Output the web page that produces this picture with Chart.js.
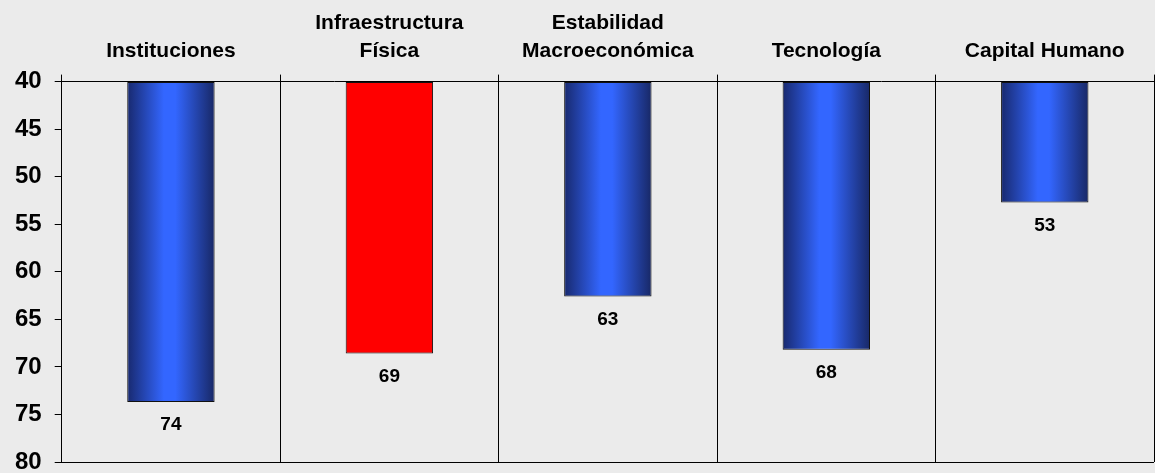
<!DOCTYPE html>
<html>
<head>
<meta charset="utf-8">
<script src="https://cdn.jsdelivr.net/npm/chart.js@4/dist/chart.umd.min.js"></script>
<style>
  html, body { margin: 0; padding: 0; background: #ebebeb; }
  #wrap { width: 1155px; height: 473px; }
</style>
</head>
<body>
<div id="wrap"><canvas id="bar-chart"></canvas></div>
<script>
// datos
const categorias = [["Instituciones"], ["Infraestructura", "Física"], ["Estabilidad", "Macroeconómica"], ["Tecnología"], ["Capital Humano"]];
const valores = [73.7, 68.6, 62.6, 68.2, 52.7];
const destacado = [false, true, false, false, false];
const yMin = 40, yMax = 80, yPaso = 5;

const fuente = "Arial, 'Liberation Sans', sans-serif";

// barras azules con degradado horizontal, la destacada en rojo
function colorBarra(ctx) {
  if (destacado[ctx.dataIndex]) return "#ff0000";
  const chart = ctx.chart;
  const x = chart.scales.x;
  if (!chart.chartArea || !x) return "#3060f0";
  const cx = x.getPixelForValue(ctx.dataIndex);
  const w = (chart.chartArea.width / categorias.length) * 0.4;
  const g = chart.ctx.createLinearGradient(cx - w / 2, 0, cx + w / 2, 0);
  g.addColorStop(0, "#18296e");
  g.addColorStop(0.42, "#3366ff");
  g.addColorStop(0.55, "#3366ff");
  g.addColorStop(1, "#182866");
  return g;
}

// etiquetas de valor debajo de cada barra
const etiquetas = {
  id: "etiquetas",
  afterDatasetsDraw(chart) {
    const c = chart.ctx;
    const meta = chart.getDatasetMeta(0);
    c.save();
    c.font = "bold 19px " + fuente;
    c.fillStyle = "#000";
    c.textAlign = "center";
    c.textBaseline = "middle";
    meta.data.forEach((bar, i) => {
      c.fillText(Math.round(valores[i]), bar.x, bar.y + 23);
    });
    c.restore();
  }
};

new Chart(document.getElementById("bar-chart"), {
  type: 'bar',
  data: {
    labels: categorias,
    datasets: [{
      data: valores,
      base: yMin,
      backgroundColor: colorBarra,
      borderColor: "#111",
      borderWidth: 1,
      borderSkipped: false,
      barPercentage: 0.4,
      categoryPercentage: 1.0
    }]
  },
  options: {
    responsive: true,
    maintainAspectRatio: false,
    animation: false,
    layout: { padding: { left: 2, right: 1, top: 0, bottom: 11 } },
    plugins: {
      legend: { display: false },
      tooltip: { enabled: false }
    },
    scales: {
      x: {
        position: 'top',
        grid: { color: "#000", lineWidth: 1, tickLength: 7, offset: true },
        border: { color: "#000", width: 1 },
        ticks: {
          color: "#000",
          font: { family: fuente, size: 21, weight: 'bold', lineHeight: 1.3 },
          padding: 10,
          maxRotation: 0
        }
      },
      y: {
        reverse: true,
        min: yMin,
        max: yMax,
        afterFit: s => { s.paddingBottom = 0; },
        grid: {
          color: c => (c.tick && c.tick.value === yMax) ? "#000" : "rgba(0,0,0,0)",
          tickColor: "#000",
          tickLength: 7
        },
        border: { color: "#000", width: 1 },
        ticks: {
          stepSize: yPaso,
          color: "#000",
          font: { family: fuente, size: 24, weight: 'bold' },
          padding: 13
        }
      }
    }
  },
  plugins: [etiquetas]
});
</script>
</body>
</html>
